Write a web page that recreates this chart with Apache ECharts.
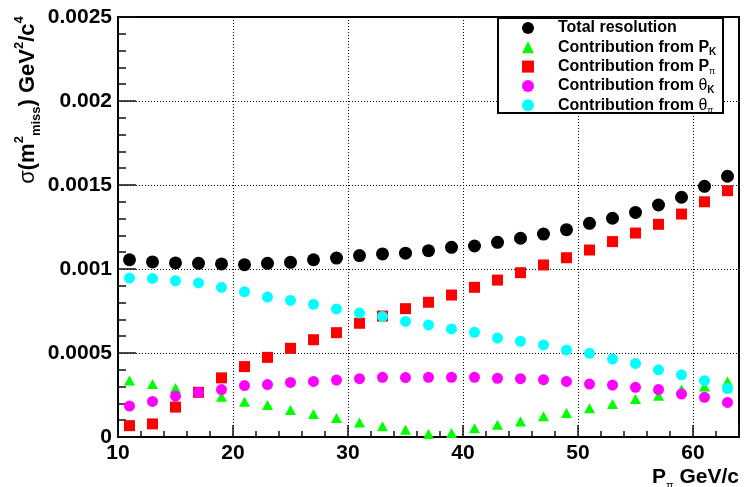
<!DOCTYPE html>
<html>
<head>
<meta charset="utf-8">
<title>missing mass resolution</title>
<script src="https://cdn.jsdelivr.net/npm/echarts@6/dist/echarts.min.js"></script>
<style>
  html, body { margin: 0; padding: 0; background: #fff; }
  #chart { width: 751px; height: 487px; }
</style>
</head>
<body>
<div id="chart"></div>
<script>
  // P_pi bins (GeV/c)
  const pPi = [11, 13, 15, 17, 19, 21, 23, 25, 27, 29, 31, 33, 35, 37, 39, 41, 43, 45, 47, 49, 51, 53, 55, 57, 59, 61, 63]
  // sigma(m2 miss) contributions, GeV^2/c^4
  const totalRes = [0.001055, 0.001042, 0.001036, 0.001034, 0.00103, 0.001026, 0.001034, 0.00104, 0.001055, 0.001065, 0.00108, 0.00109, 0.001094,
    0.001109, 0.001129, 0.001137, 0.001159, 0.001183, 0.001208, 0.001234, 0.001272, 0.001302, 0.001337, 0.001381, 0.001427, 0.001492, 0.001552]
  const fromPK = [0.000337, 0.000315, 0.000292, 0.000268, 0.00024, 0.00021, 0.00019, 0.000161, 0.000137, 0.000113, 0.000087, 0.000064, 0.000043,
    0.000018, 0.000024, 0.000052, 0.000073, 0.000093, 0.000123, 0.000143, 0.000171, 0.000196, 0.000226, 0.000245, 0.000283, 0.0003, 0.00033]
  const fromPPi = [0.0000675, 0.000078, 0.000178, 0.000266, 0.000352, 0.000419, 0.000474, 0.000528, 0.000579, 0.000621, 0.000677, 0.00072, 0.000764,
    0.000802, 0.000845, 0.000891, 0.000934, 0.000978, 0.001024, 0.001067, 0.001113, 0.001163, 0.001214, 0.001266, 0.001327, 0.0014, 0.001466]
  const fromThetaK = [0.000184, 0.000212, 0.000243, 0.000266, 0.000282, 0.000306, 0.000312, 0.000325, 0.000331, 0.000339, 0.000347, 0.000355, 0.000354,
    0.000355, 0.000355, 0.000355, 0.000349, 0.000347, 0.000341, 0.000331, 0.000315, 0.000309, 0.000296, 0.000282, 0.000256, 0.000236, 0.000206]
  const fromThetaPi = [0.000946, 0.000944, 0.00093, 0.000917, 0.000891, 0.000865, 0.000833, 0.000813, 0.00079, 0.000762, 0.000738, 0.000718, 0.000688,
    0.000667, 0.000643, 0.000623, 0.000589, 0.00057, 0.000548, 0.000518, 0.000498, 0.000464, 0.000438, 0.0004, 0.00037, 0.000335, 0.000288]
  // tick labels shown on the x axis
  const xTickLabels = [10, 20, 30, 40, 50, 60]

  const FONT = 'Liberation Sans, Arial, Helvetica, sans-serif'
  const TICK = '#111'
  const toPairs = arr => pPi.map((x, i) => [x, arr[i]])

  // legend names -> rich text with sub scripts
  const legendText = {
    'Total resolution': '{gap|}{b|Total resolution}',
    'P_K': '{gap|}{b|Contribution from P}{sub|K}',
    'P_pi': '{gap|}{b|Contribution from P}{subg|π}',
    'theta_K': '{gap|}{b|Contribution from }{g|θ}{sub|K}',
    'theta_pi': '{gap|}{b|Contribution from }{g|θ}{subg|π}'
  }

  const chart = echarts.init(document.getElementById('chart'))
  const option = {
    animation: false,
    backgroundColor: '#fff',
    grid: {
      left: 118, top: 17, width: 621, height: 420,
      show: true, borderColor: '#000', borderWidth: 2, backgroundColor: 'transparent'
    },
    xAxis: [
      {
        type: 'value', min: 10, max: 64, interval: 10,
        axisLine: { show: true, lineStyle: { color: '#000', width: 2 } },
        axisTick: { show: true, inside: true, length: 12, lineStyle: { color: TICK, width: 1.5 } },
        axisLabel: {
          margin: 6, color: '#000', fontSize: 21, fontWeight: 'bold', fontFamily: FONT,
          formatter: v => xTickLabels.indexOf(v) >= 0 ? String(v) : ''
        },
        splitLine: { show: true, lineStyle: { color: '#000', width: 1, type: [1, 2] } }
      },
      {
        // minor ticks every 2 GeV/c
        type: 'value', min: 10, max: 64, interval: 2, position: 'bottom',
        axisLine: { show: false },
        axisTick: { show: true, inside: true, length: 6, lineStyle: { color: TICK, width: 1.5 } },
        axisLabel: { show: false },
        splitLine: { show: false }
      }
    ],
    yAxis: {
      type: 'value', min: 0, max: 0.0025, interval: 0.0005,
      axisLine: { show: true, lineStyle: { color: '#000', width: 2 } },
      axisTick: { show: true, inside: true, length: 18, lineStyle: { color: TICK, width: 1.5 } },
      minorTick: { show: true, splitNumber: 5, length: 8, lineStyle: { color: TICK, width: 1.5 } },
      axisLabel: { margin: 6, color: '#000', fontSize: 21, fontWeight: 'bold', fontFamily: FONT },
      splitLine: { show: true, lineStyle: { color: '#000', width: 1, type: [1, 2] } }
    },
    legend: {
      orient: 'vertical',
      left: 522, top: 18.5, z: 6,
      padding: 0, itemGap: 0.3,
      itemWidth: 12, itemHeight: 12,
      selectedMode: false,
      data: [
        { name: 'Total resolution', icon: 'circle' },
        { name: 'P_K', icon: 'triangle' },
        { name: 'P_pi', icon: 'rect' },
        { name: 'theta_K', icon: 'circle' },
        { name: 'theta_pi', icon: 'circle' }
      ],
      formatter: name => legendText[name],
      textStyle: {
        lineHeight: 19,
        rich: {
          gap: { width: 19, lineHeight: 19 },
          b: { fontSize: 16, fontWeight: 'bold', fontFamily: FONT, color: '#000', lineHeight: 19 },
          g: { fontSize: 16, fontFamily: FONT, color: '#000', lineHeight: 19 },
          sub: { fontSize: 10, fontWeight: 'bold', fontFamily: FONT, color: '#000', verticalAlign: 'bottom', lineHeight: 13 },
          subg: { fontSize: 9, fontFamily: FONT, color: '#000', verticalAlign: 'bottom', lineHeight: 12 }
        }
      }
    },
    graphic: [
      {
        // legend frame, under the legend items but over the grid lines
        type: 'rect', left: 497, top: 17, z: 3,
        shape: { width: 225, height: 95 },
        style: { fill: '#fff', stroke: '#000', lineWidth: 2 }
      },
      {
        // y axis title
        type: 'text', x: 28, y: 100, rotation: Math.PI / 2, z: 10,
        style: {
          text: '{g|σ}{b|(m}{sup|2}{sub|miss}{b|) GeV}{sup|2}{b|/c}{sup|4}',
          align: 'center', verticalAlign: 'middle',
          rich: {
            b: { fontSize: 22, fontWeight: 'bold', fontFamily: FONT, fill: '#000', lineHeight: 30 },
            g: { fontSize: 22, fontFamily: FONT, fill: '#000', lineHeight: 30 },
            sup: { fontSize: 13, fontWeight: 'bold', fontFamily: FONT, fill: '#000', verticalAlign: 'top', lineHeight: 14 },
            sub: { fontSize: 13, fontWeight: 'bold', fontFamily: FONT, fill: '#000', verticalAlign: 'bottom', lineHeight: 14 }
          }
        }
      },
      {
        // x axis title
        type: 'text', x: 739, y: 477, z: 10,
        style: {
          text: '{b|P}{sub|π}{b| GeV/c}',
          align: 'right', verticalAlign: 'middle',
          rich: {
            b: { fontSize: 21, fontWeight: 'bold', fontFamily: FONT, fill: '#000', lineHeight: 28 },
            sub: { fontSize: 11, fontFamily: FONT, fill: '#000', verticalAlign: 'bottom', lineHeight: 12 }
          }
        }
      }
    ],
    series: [
      {
        name: 'Total resolution', type: 'scatter', data: toPairs(totalRes),
        symbol: 'circle', symbolSize: 13, itemStyle: { color: '#000', opacity: 1 }
      },
      {
        name: 'P_K', type: 'scatter', data: toPairs(fromPK),
        symbol: 'triangle', symbolSize: [11, 10], itemStyle: { color: '#00ff00', opacity: 1 }
      },
      {
        name: 'P_pi', type: 'scatter', data: toPairs(fromPPi),
        symbol: 'rect', symbolSize: 11, itemStyle: { color: '#ff0000', opacity: 1 }
      },
      {
        name: 'theta_K', type: 'scatter', data: toPairs(fromThetaK),
        symbol: 'circle', symbolSize: 11, itemStyle: { color: '#ff00ff', opacity: 1 }
      },
      {
        name: 'theta_pi', type: 'scatter', data: toPairs(fromThetaPi),
        symbol: 'circle', symbolSize: 11, itemStyle: { color: '#00ffff', opacity: 1 }
      }
    ]
  }
  chart.setOption(option)
</script>
</body>
</html>
